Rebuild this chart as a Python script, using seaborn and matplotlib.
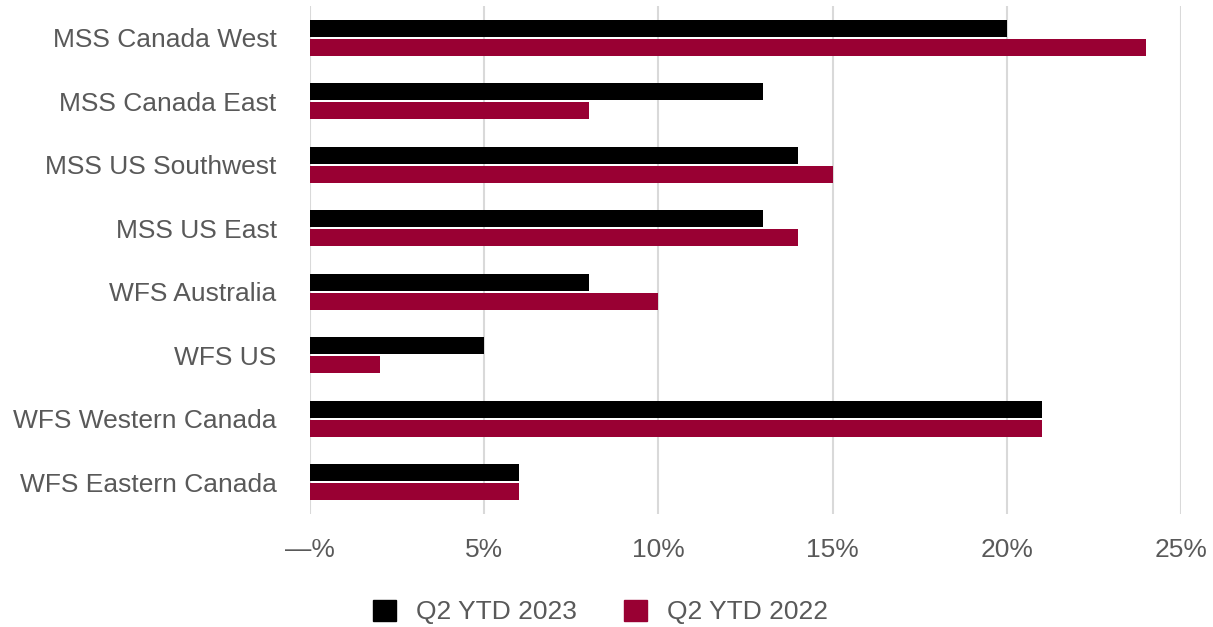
import pandas as pd
import matplotlib.pyplot as plt
import matplotlib.ticker as mticker
import seaborn as sns

regions = ['MSS Canada West', 'MSS Canada East', 'MSS US Southwest', 'MSS US East',
           'WFS Australia', 'WFS US', 'WFS Western Canada', 'WFS Eastern Canada']
ytd_2023 = [20, 13, 14, 13, 8, 5, 21, 6]
ytd_2022 = [24, 8, 15, 14, 10, 2, 21, 6]
series = ['Q2 YTD 2023', 'Q2 YTD 2022']
colors = ['#000000', '#990033']
x_ticks = [0, 5, 10, 15, 20, 25]

df = pd.DataFrame({
    'region': regions * 2,
    'value': ytd_2023 + ytd_2022,
    'series': [series[0]] * len(regions) + [series[1]] * len(regions),
})

sns.set_theme(style='white')
plt.rcParams['font.family'] = ['Liberation Sans', 'DejaVu Sans']

fig = plt.figure(figsize=(12.13, 6.27), dpi=100)
ax = fig.add_axes([310 / 1213, 1 - 514 / 627, (1181 - 310) / 1213, 508 / 627])

sns.barplot(data=df, y='region', x='value', hue='series', order=regions,
            hue_order=series, palette=colors, width=0.6, gap=0.1,
            saturation=1, linewidth=0, ax=ax, legend=False)

ax.set_xlim(0, 25)
ax.set_xticks(x_ticks)
ax.xaxis.set_major_formatter(mticker.FuncFormatter(lambda v, p: '—%' if v == 0 else f'{v:.0f}%'))
ax.grid(axis='x', color='#d9d9d9', linewidth=1.5)
ax.set_axisbelow(True)
for s in ax.spines.values():
    s.set_visible(False)
ax.set_xlabel('')
ax.set_ylabel('')
ax.tick_params(axis='both', length=0, labelsize=19, colors='#595959')
ax.tick_params(axis='x', pad=17)
ax.tick_params(axis='y', pad=24)

handles = [plt.Rectangle((0, 0), 1, 1, color=c) for c in colors]
fig.legend(handles, series, loc='center', bbox_to_anchor=(0.495, 1 - 612 / 627), ncol=2,
           frameon=False, fontsize=19, handlelength=0.85, handleheight=0.85,
           columnspacing=1.8, handletextpad=0.76, labelcolor='#595959',
           borderpad=0, borderaxespad=0)

fig.savefig('out.png', dpi=100)
